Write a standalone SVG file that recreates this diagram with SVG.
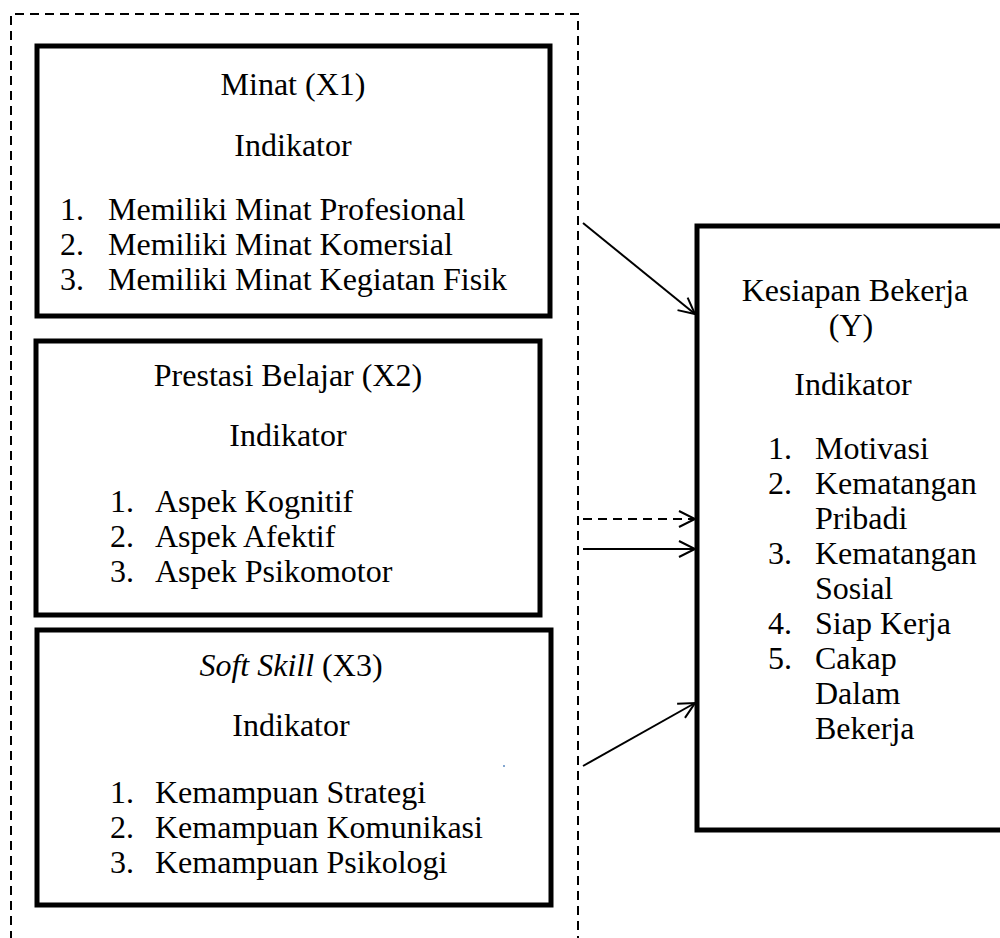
<svg xmlns="http://www.w3.org/2000/svg" width="1000" height="938" viewBox="0 0 1000 938">
<style>
.box{fill:#fff;stroke:#000;stroke-width:5}
.t{font-family:"Liberation Serif","Times New Roman",serif;font-size:32px;fill:#000}
.c{text-anchor:middle}
.ln{stroke:#000;stroke-width:2;fill:none}
.dash{stroke-dasharray:9,6}
</style>
<defs>
<marker id="ah" markerUnits="userSpaceOnUse" markerWidth="20" markerHeight="20" refX="17" refY="9" orient="auto" viewBox="0 0 20 18">
<path d="M1,1 L17,9 L1,17" fill="none" stroke="#000" stroke-width="2"/>
</marker>
</defs>
<rect width="1000" height="938" fill="#fff"/>
<g id="group-border">
<path class="ln dash" d="M11,940 L11,14 L578,14 L578,940"/>
</g>
<g id="node-x1">
<rect class="box" x="37" y="46" width="513" height="270"/>
<text class="t c" x="293" y="95">Minat (X1)</text>
<text class="t c" x="293" y="156">Indikator</text>
<text class="t" x="60" y="220">1.</text><text class="t" x="108" y="220">Memiliki Minat Profesional</text>
<text class="t" x="60" y="255">2.</text><text class="t" x="108" y="255">Memiliki Minat Komersial</text>
<text class="t" x="60" y="290">3.</text><text class="t" x="108" y="290">Memiliki Minat Kegiatan Fisik</text>
</g>
<g id="node-x2">
<rect class="box" x="36" y="341" width="504" height="274"/>
<text class="t c" x="288" y="386">Prestasi Belajar (X2)</text>
<text class="t c" x="288" y="446">Indikator</text>
<text class="t" x="110" y="512">1.</text><text class="t" x="155" y="512">Aspek Kognitif</text>
<text class="t" x="110" y="547">2.</text><text class="t" x="155" y="547">Aspek Afektif</text>
<text class="t" x="110" y="582">3.</text><text class="t" x="155" y="582">Aspek Psikomotor</text>
</g>
<g id="node-x3">
<rect class="box" x="37" y="630" width="514" height="275"/>
<text class="t c" x="291" y="676"><tspan font-style="italic">Soft Skill</tspan> (X3)</text>
<text class="t c" x="291" y="736">Indikator</text>
<text class="t" x="110" y="803">1.</text><text class="t" x="155" y="803">Kemampuan Strategi</text>
<text class="t" x="110" y="838">2.</text><text class="t" x="155" y="838">Kemampuan Komunikasi</text>
<text class="t" x="110" y="873">3.</text><text class="t" x="155" y="873">Kemampuan Psikologi</text>
<circle cx="504" cy="766" r="1" fill="#5a8ac0"/>
</g>
<g id="node-y">
<rect class="box" x="697" y="226" width="320" height="604"/>
<text class="t c" x="855" y="301">Kesiapan Bekerja</text>
<text class="t c" x="851" y="336">(Y)</text>
<text class="t c" x="853" y="395">Indikator</text>
<text class="t" x="768" y="459">1.</text><text class="t" x="815" y="459">Motivasi</text>
<text class="t" x="768" y="494">2.</text><text class="t" x="815" y="494">Kematangan</text>
<text class="t" x="815" y="529">Pribadi</text>
<text class="t" x="768" y="564">3.</text><text class="t" x="815" y="564">Kematangan</text>
<text class="t" x="815" y="599">Sosial</text>
<text class="t" x="768" y="634">4.</text><text class="t" x="815" y="634">Siap Kerja</text>
<text class="t" x="768" y="669">5.</text><text class="t" x="815" y="669">Cakap</text>
<text class="t" x="815" y="704">Dalam</text>
<text class="t" x="815" y="739">Bekerja</text>
</g>
<g id="connectors">
<line class="ln" x1="583" y1="223" x2="695" y2="314" marker-end="url(#ah)"/>
<line class="ln dash" x1="583" y1="519" x2="695" y2="519" marker-end="url(#ah)"/>
<line class="ln" x1="583" y1="549" x2="695" y2="549" marker-end="url(#ah)"/>
<line class="ln" x1="583" y1="766" x2="695" y2="703" marker-end="url(#ah)"/>
</g>
</svg>
